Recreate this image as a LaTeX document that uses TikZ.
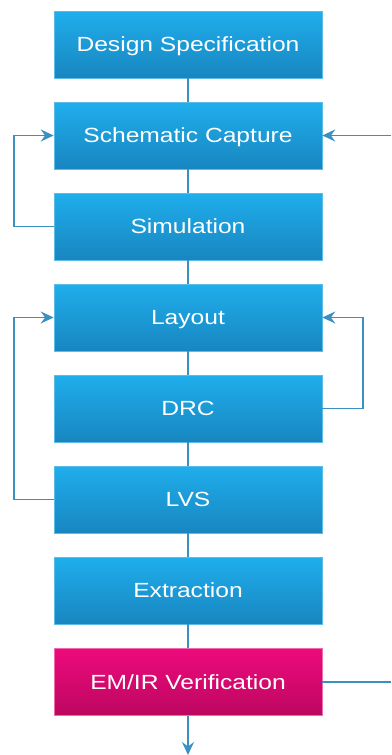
\documentclass[tikz,border=0pt]{standalone}
\usepackage{fontspec}
\setmainfont{Liberation Sans}
\usetikzlibrary{arrows.meta}
\definecolor{bluetop}{HTML}{1FAEEC}
\definecolor{bluebot}{HTML}{1886C0}
\definecolor{blueedge}{HTML}{5CBCE8}
\definecolor{pinktop}{HTML}{EE0A7C}
\definecolor{pinkbot}{HTML}{BC0760}
\definecolor{pinkedge}{HTML}{F06AAE}
\definecolor{wire}{HTML}{3A90C0}
\tikzset{
  x=1pt, y=1pt,
  stagebox/.style={minimum width=268pt, minimum height=67pt, inner sep=0pt,
    text height=14.7pt, text depth=0pt,
    top color=bluetop, bottom color=bluebot, draw=blueedge, line width=0.6pt,
    text=white, font=\fontsize{20.5}{22}\selectfont},
  alertbox/.style={stagebox, top color=pinktop, bottom color=pinkbot, draw=pinkedge},
  wireline/.style={draw=wire, line width=1.8pt},
  flow/.style={wireline, -{Stealth[length=13pt, width=12pt, inset=4.5pt]}},
}
% labels are set slightly wider than the font's natural width
\newcommand{\wide}[1]{\scalebox{1.2}[1]{#1}}
\begin{document}
\begin{tikzpicture}
\useasboundingbox (0,0) rectangle (391,-755);
\node[stagebox] (spec) at (188,-44.5) {\wide{Design Specification}};
\node[stagebox] (schem) at (188,-135.5) {\wide{Schematic Capture}};
\node[stagebox] (sim) at (188,-226.5) {\wide{Simulation}};
\node[stagebox] (layout) at (188,-317.5) {\wide{Layout}};
\node[stagebox] (drc) at (188,-408.5) {\wide{DRC}};
\node[stagebox] (lvs) at (188,-499.5) {\wide{LVS}};
\node[stagebox] (extr) at (188,-590.5) {\wide{Extraction}};
\node[alertbox] (emir) at (188,-682) {\wide{EM/IR Verification}};

\coordinate (inR) at (391,-135.5);
\coordinate (outR) at (391,-682);
\coordinate (down) at (188,-755);

% main chain
\draw[wireline] (spec) -- (schem);
\draw[wireline] (schem) -- (sim);
\draw[wireline] (sim) -- (layout);
\draw[wireline] (layout) -- (drc);
\draw[wireline] (drc) -- (lvs);
\draw[wireline] (lvs) -- (extr);
\draw[wireline] (extr) -- (emir);
\draw[flow] (emir) -- (down);

% feedback loops
\draw[flow] (sim.west) -| (14,-180) |- (schem.west);
\draw[flow] (lvs.west) -| (14,-400) |- (layout.west);
\draw[flow] (drc.east) -| (363,-360) |- (layout.east);
\draw[flow] (inR) -- (schem.east);
\draw[wireline] (emir.east) -- (outR);
\end{tikzpicture}
\end{document}
